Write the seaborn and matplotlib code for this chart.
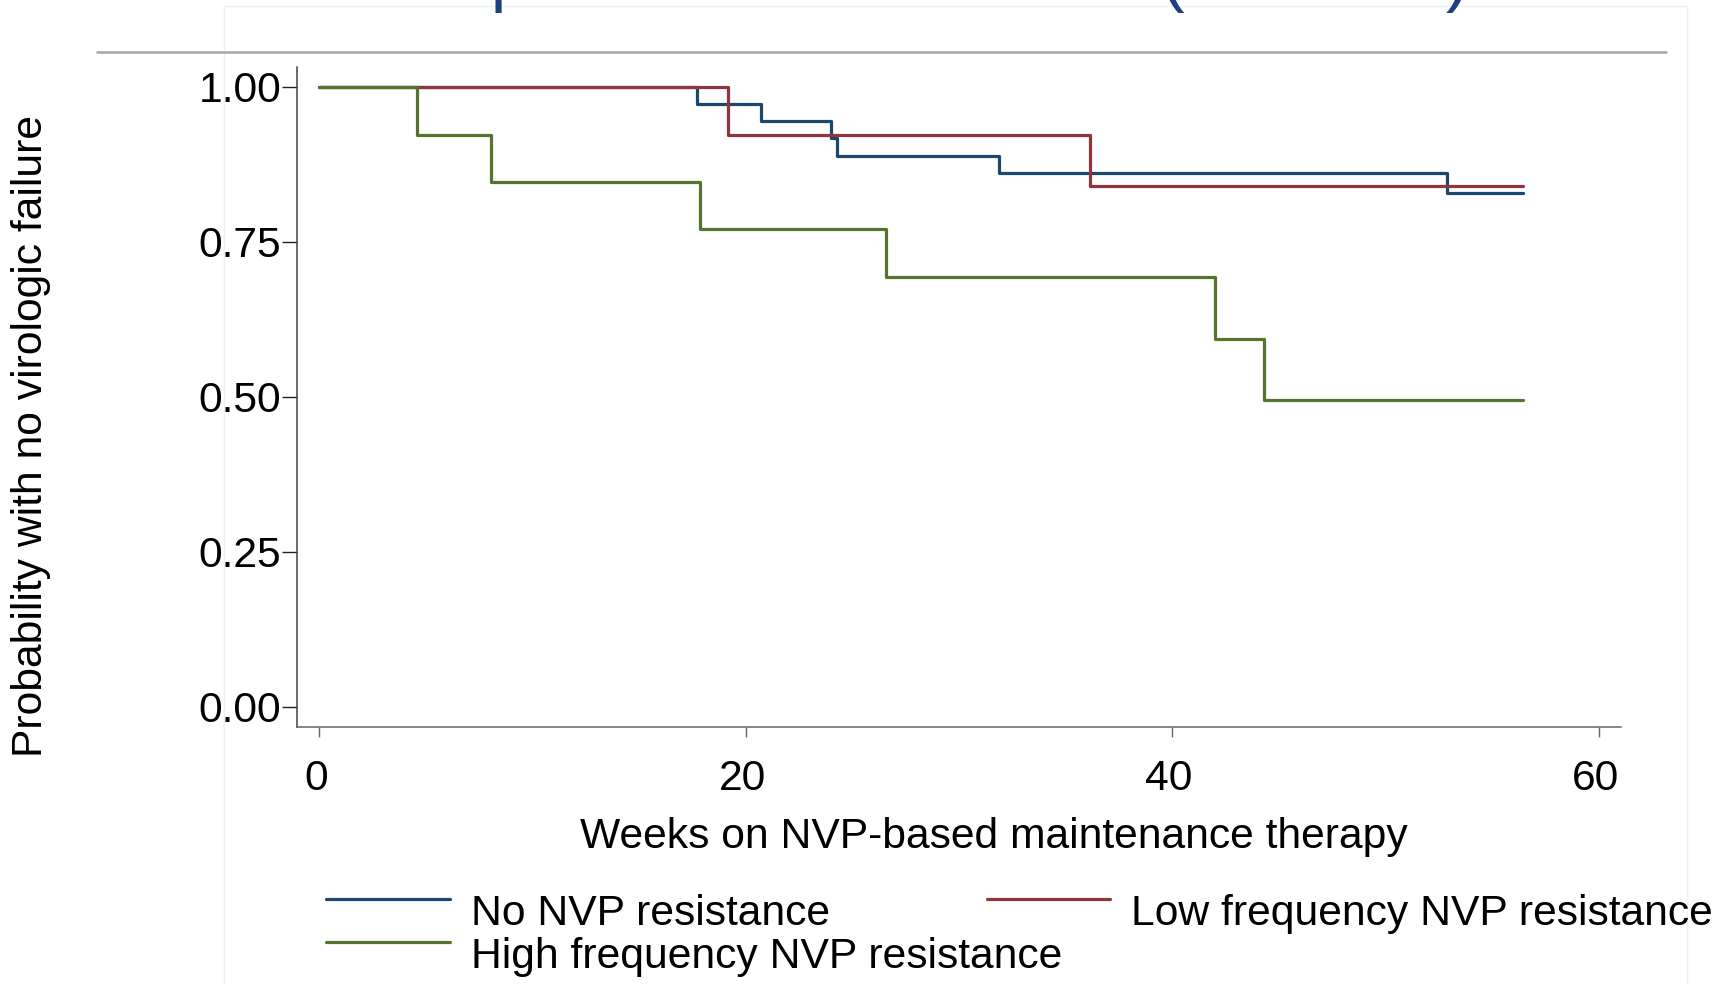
import matplotlib
matplotlib.use("Agg")
import numpy as np
import pandas as pd
import seaborn as sns
import matplotlib.pyplot as plt
from matplotlib.lines import Line2D
from matplotlib.font_manager import FontProperties
from matplotlib.legend_handler import HandlerLine2D
from matplotlib.transforms import ScaledTranslation

# ---------------- data ----------------
groups = ["No NVP resistance", "Low frequency NVP resistance", "High frequency NVP resistance"]

no_weeks = [0, 17.73, 20.72, 24.01, 24.28, 31.88, 52.88, 56.44]
no_surv = [1.0, 0.973, 0.945, 0.918, 0.888, 0.861, 0.829, 0.829]

low_weeks = [0, 19.14, 36.16, 56.44]
low_surv = [1.0, 0.923, 0.840, 0.840]

high_weeks = [0, 4.57, 8.04, 17.83, 26.58, 42.0, 44.29, 56.44]
high_surv = [1.0, 0.923, 0.847, 0.770, 0.693, 0.594, 0.495, 0.495]

x_ticks = [0, 20, 40, 60]
y_ticks = [0.0, 0.25, 0.50, 0.75, 1.00]
y_ticklabels = ["0.00", "0.25", "0.50", "0.75", "1.00"]

colors = {"No NVP resistance": "#1a476f",
          "Low frequency NVP resistance": "#90353b",
          "High frequency NVP resistance": "#55752f"}

df = pd.concat([
    pd.DataFrame({"week": no_weeks, "surv": no_surv, "group": groups[0]}),
    pd.DataFrame({"week": low_weeks, "surv": low_surv, "group": groups[1]}),
    pd.DataFrame({"week": high_weeks, "surv": high_surv, "group": groups[2]}),
], ignore_index=True)

# ---------------- figure ----------------
sns.set_theme(style="ticks")
plt.rcParams["font.family"] = ["Liberation Sans", "DejaVu Sans"]
plt.rcParams["text.color"] = "black"
plt.rcParams["axes.labelcolor"] = "black"

FS = 30.7
W, H = 1729, 984
fig = plt.figure(figsize=(W / 100, H / 100), dpi=100)
fig.patch.set_facecolor("white")

# slide decorations
fig.add_artist(Line2D([224 / W, 224 / W], [0, 1 - 6 / H], color="#eaf2f2", lw=1, zorder=0))
fig.add_artist(Line2D([1687 / W, 1687 / W], [0, 1 - 6 / H], color="#eaf2f2", lw=1, zorder=0))
fig.add_artist(Line2D([224 / W, 1687 / W], [1 - 6 / H, 1 - 6 / H], color="#eaf2f2", lw=1, zorder=0))
fig.add_artist(Line2D([97 / W, 1666 / W], [1 - 51.7 / H, 1 - 51.7 / H], color="#a5a5a5", lw=1.8))

# clipped slide title (only descenders visible)
title = "Kaplan-Meier estimates (Children)"
renderer = fig.canvas.get_renderer()
fp = FontProperties(family="Liberation Sans", size=10)
def tw(s):
    return renderer.get_text_width_height_descent(s, fp, ismath=False)[0]
em10 = 10 * 100 / 72
w1 = tw(title[:title.index("p")])
w2 = tw(title[:title.index("(")])
k = 684 / ((w2 - w1) + 0.18 * em10)
S = 10 * k
x0 = 496 - k * (w1 + 0.07 * em10)
base = 12.5 - 0.21 * S * 100 / 72
fig.text(x0 / W, 1 - base / H, title, fontsize=S, color="#1f3f7f", ha="left", va="baseline")

ax = fig.add_axes([296.6 / W, 1 - 727 / H, (1621 - 296.6) / W, (727 - 67) / H])
ax.set_facecolor("white")

sns.lineplot(data=df, x="week", y="surv", hue="group", hue_order=groups,
             palette=colors, estimator=None, sort=False, drawstyle="steps-post",
             lw=2.3, legend=False, ax=ax)

ax.set_xlim(-1.07, 61.04)
ax.set_ylim(-0.0326, 1.032)
ax.set_xticks(x_ticks)
ax.set_xticklabels([str(t) for t in x_ticks])
ax.set_yticks(y_ticks)
ax.set_yticklabels(y_ticklabels)
for s in ["top", "right"]:
    ax.spines[s].set_visible(False)
ax.spines["left"].set_color("#444444")
ax.spines["bottom"].set_color("#666666")
ax.spines["left"].set_linewidth(1.1)
ax.spines["bottom"].set_linewidth(1.1)
ax.tick_params(axis="x", length=7.2, width=1, color="#666666", pad=15.5, labelsize=FS, labelcolor="black")
ax.tick_params(axis="y", length=10.5, width=1, color="#222222", pad=0.5, labelsize=FS, labelcolor="black")
shift = ScaledTranslation(-3.5 / 100, 0, fig.dpi_scale_trans)
for lab in ax.get_xticklabels():
    lab.set_transform(lab.get_transform() + shift)

ax.set_xlabel("Weeks on NVP-based maintenance therapy", fontsize=FS, va="center", ha="center", color="black")
ax.xaxis.set_label_coords((994 - 296.6) / 1324.4, -0.167)
ax.set_ylabel("Probability with no virologic failure", fontsize=FS, va="center", ha="center", color="black")
ax.yaxis.set_label_coords((31 - 296.6) / 1324.4, 0.4415)


class RaisedLine(HandlerLine2D):
    def create_artists(self, legend, orig_handle, xdescent, ydescent, width, height, fontsize, trans):
        arts = super().create_artists(legend, orig_handle, xdescent, ydescent, width, height, fontsize, trans)
        for a in arts:
            a.set_ydata(np.asarray(a.get_ydata(), dtype=float) + 0.26 * fontsize)
        return arts


handles = [Line2D([], [], color=colors[g], lw=2.3) for g in groups]
leg = fig.legend(handles=[handles[0], handles[2], handles[1]],
                 labels=[groups[0], groups[2], groups[1]],
                 ncol=2, frameon=False, fontsize=FS, loc="upper left",
                 bbox_to_anchor=(326 / W, 1 - 894 / H), borderpad=0, borderaxespad=0,
                 handlelength=2.9, handletextpad=0.49, columnspacing=-1.76,
                 labelspacing=0.075, handler_map={Line2D: RaisedLine()},
                 labelcolor="black")

fig.savefig("out.png", dpi=100, facecolor="white")
